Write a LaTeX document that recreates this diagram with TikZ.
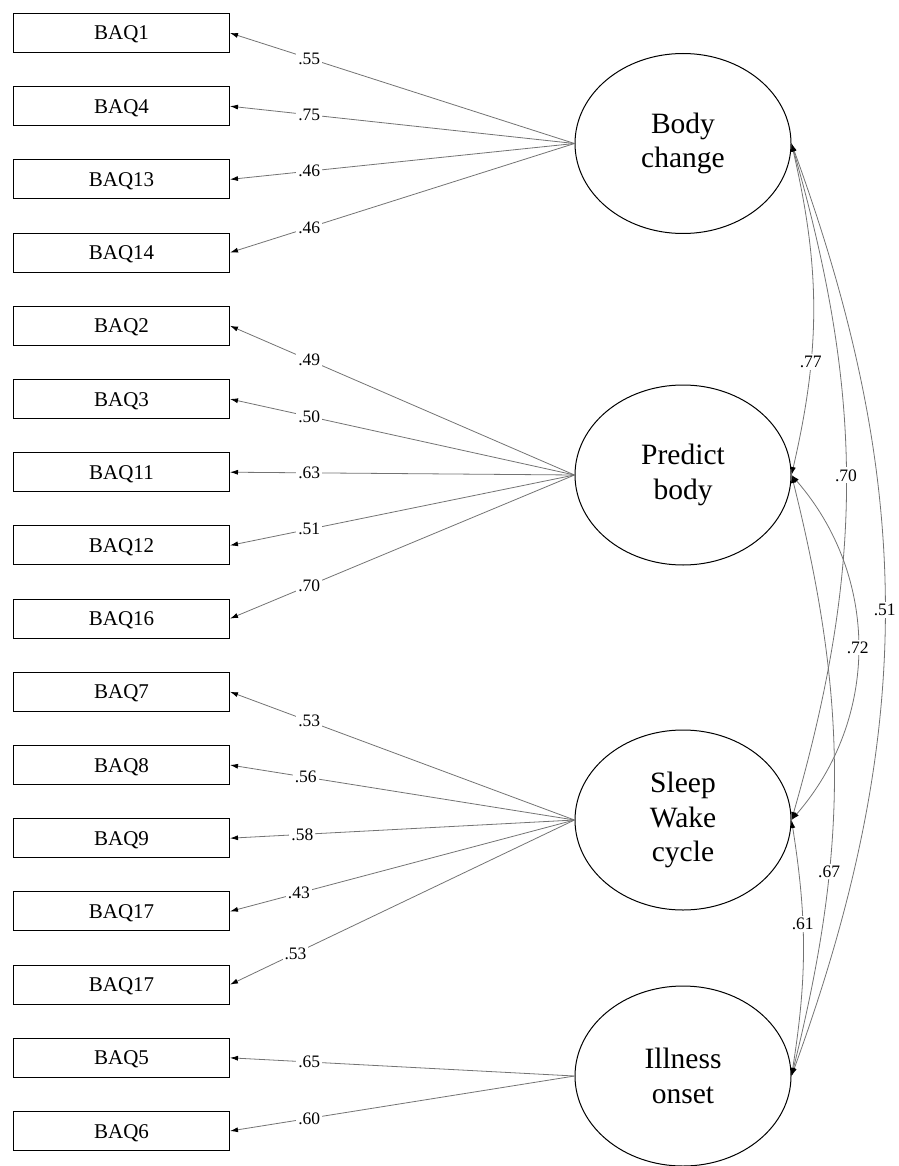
\documentclass[tikz,border=0pt]{standalone}
\usepackage{fontspec}
\setmainfont{Liberation Serif}
\usetikzlibrary{arrows.meta, shapes.geometric}

\begin{document}
\begin{tikzpicture}[
    x=1pt, y=-1pt,
    % Стиль для пунктов опросника: прямоугольник
    item/.style={rectangle, draw, line width=1pt, minimum width=216pt, minimum height=39pt, inner sep=0pt,
                 text height=14pt, text depth=-8pt, font=\fontsize{21}{24}\selectfont},
    % Стиль для факторов: эллипс с текстом в несколько строк
    factor/.style={ellipse, draw, line width=1pt, minimum width=216pt, minimum height=180pt, inner sep=0pt, align=center, font=\fontsize{29.5}{34.5}\selectfont},
    % Стиль для нагрузок: серая линия, черная стрелка
    load/.style={draw=black!55, line width=0.8pt, -{Latex[color=black, length=8pt, width=5pt]}},
    % Стиль для корреляций: дуга со стрелками с двух сторон
    cov/.style={draw=black!55, line width=0.8pt, {Latex[color=black, length=8pt, width=5pt]}-{Latex[color=black, length=8pt, width=5pt]}},
    % Стиль для коэффициентов
    coef/.style={fill=white, inner sep=2pt, font=\fontsize{17.5}{20}\selectfont}
]
    \useasboundingbox (0,0) rectangle (898,1166);

    % --- Пункты опросника (слева) ---
    \node[item] (q1)  at (121.5, 33)     {BAQ1};
    \node[item] (q4)  at (121.5, 106.2)  {BAQ4};
    \node[item] (q13) at (121.5, 179.4)  {BAQ13};
    \node[item] (q14) at (121.5, 252.6)  {BAQ14};
    \node[item] (q2)  at (121.5, 325.8)  {BAQ2};
    \node[item] (q3)  at (121.5, 399)    {BAQ3};
    \node[item] (q11) at (121.5, 472.2)  {BAQ11};
    \node[item] (q12) at (121.5, 545.4)  {BAQ12};
    \node[item] (q16) at (121.5, 618.6)  {BAQ16};
    \node[item] (q7)  at (121.5, 691.8)  {BAQ7};
    \node[item] (q8)  at (121.5, 765)    {BAQ8};
    \node[item] (q9)  at (121.5, 838.2)  {BAQ9};
    \node[item] (q17) at (121.5, 911.4)  {BAQ17};
    \node[item] (q17b) at (121.5, 984.6) {BAQ17};
    \node[item] (q5)  at (121.5, 1057.8) {BAQ5};
    \node[item] (q6)  at (121.5, 1131)   {BAQ6};

    % --- Факторы (справа) ---
    \node[factor] (bc) at (683, 143.5) {Body\\change};
    \node[factor] (pb) at (683, 475)   {Predict\\body};
    \node[factor] (sw) at (683, 820)   {Sleep\\Wake\\cycle};
    \node[factor] (io) at (683, 1076)  {Illness\\onset};

    % --- Нагрузки: Body change ---
    \draw[load] (bc.west) -- node[coef, pos=.77] {.55} (q1.east);
    \draw[load] (bc.west) -- node[coef, pos=.77] {.75} (q4.east);
    \draw[load] (bc.west) -- node[coef, pos=.77] {.46} (q13.east);
    \draw[load] (bc.west) -- node[coef, pos=.77] {.46} (q14.east);

    % --- Нагрузки: Predict body ---
    \draw[load] (pb.west) -- node[coef, pos=.77] {.49} (q2.east);
    \draw[load] (pb.west) -- node[coef, pos=.77] {.50} (q3.east);
    \draw[load] (pb.west) -- node[coef, pos=.77] {.63} (q11.east);
    \draw[load] (pb.west) -- node[coef, pos=.77] {.51} (q12.east);
    \draw[load] (pb.west) -- node[coef, pos=.77] {.70} (q16.east);

    % --- Нагрузки: Sleep Wake cycle ---
    \draw[load] (sw.west) -- node[coef, pos=.77] {.53} (q7.east);
    \draw[load] (sw.west) -- node[coef, pos=.78] {.56} (q8.east);
    \draw[load] (sw.west) -- node[coef, pos=.79] {.58} (q9.east);
    \draw[load] (sw.west) -- node[coef, pos=.80] {.43} (q17.east);
    \draw[load] (sw.west) -- node[coef, pos=.81] {.53} (q17b.east);

    % --- Нагрузки: Illness onset ---
    \draw[load] (io.west) -- node[coef, pos=.77] {.65} (q5.east);
    \draw[load] (io.west) -- node[coef, pos=.77] {.60} (q6.east);

    % --- Корреляции факторов ---
    \draw[cov] (bc.east) to[bend left=13] node[coef, pos=.67] {.77} (pb.east);
    \draw[cov] (bc.east) to[bend left=16] node[coef, pos=.49] {.70} (sw.east);
    \draw[cov] (bc.east) to[bend left=20] node[coef, pos=.5] {.51} (io.east);
    \draw[cov] (pb.east) to[bend left=41] node[coef, pos=.5] {.72} (sw.east);
    \draw[cov] (pb.east) to[bend left=14] node[coef, pos=.67] {.67} (io.east);
    \draw[cov] (sw.east) to[bend left=9] node[coef, pos=.4] {.61} (io.east);

\end{tikzpicture}
\end{document}
